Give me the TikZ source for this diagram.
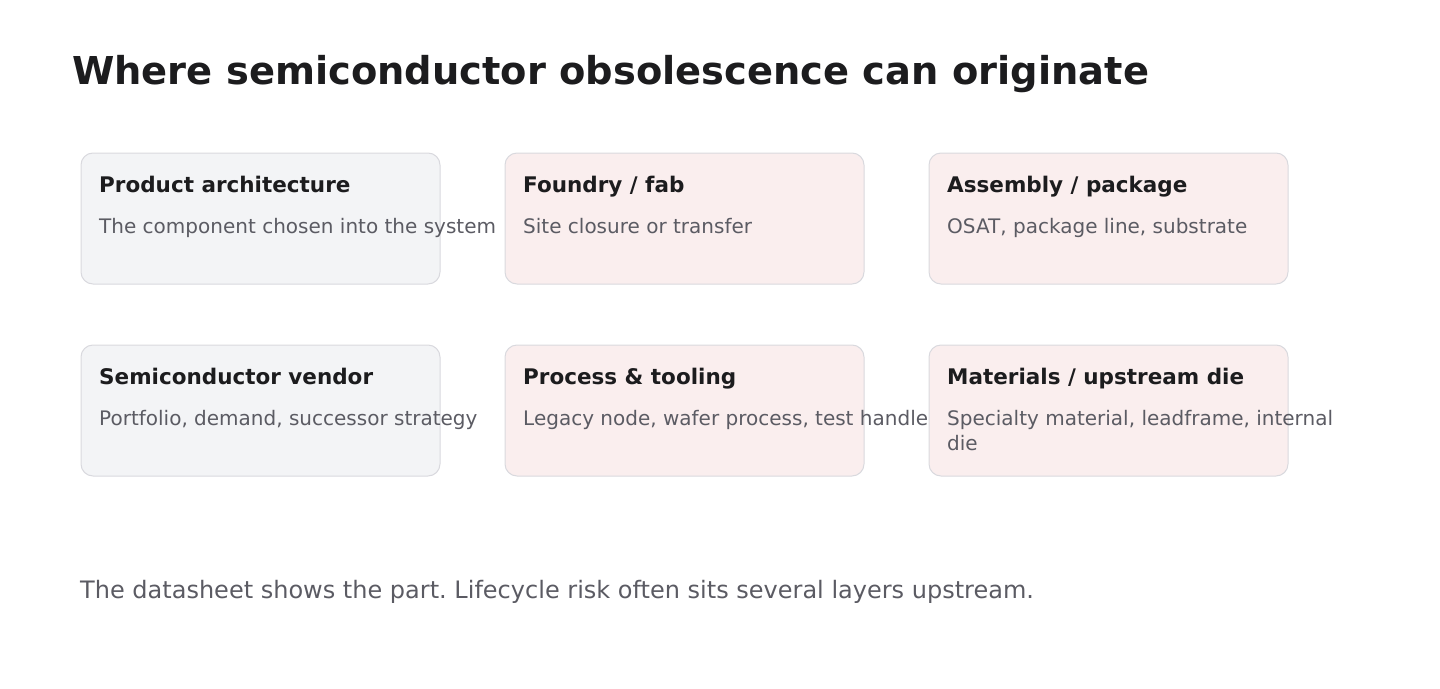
\documentclass[tikz,border=0pt]{standalone}
\usepackage{fontspec}
\setmainfont{DejaVu Sans}
\usepackage{xcolor}
\usepackage{tikz}
\usetikzlibrary{positioning}
\frenchspacing

\definecolor{inkdark}{HTML}{1C1C1E}
\definecolor{inkgray}{HTML}{5B5B63}
\definecolor{boxgray}{HTML}{F3F4F6}
\definecolor{boxpink}{HTML}{FAEEEE}
\definecolor{boxline}{HTML}{D9D9DE}

\begin{document}
\begin{tikzpicture}[x=1pt, y=-1pt,
  srcbox/.style={draw=boxline, line width=1pt, rounded corners=12pt,
    minimum width=359pt, minimum height=131pt, inner sep=0pt, anchor=north west},
  headtxt/.style={anchor=base west, inner sep=0pt, text=inkdark,
    font=\fontsize{21.5}{26}\selectfont\bfseries},
  desctxt/.style={anchor=base west, inner sep=0pt, text=inkgray, align=left,
    font=\fontsize{20}{25}\selectfont}
]

% Canvas
\useasboundingbox (0,0) rectangle (1440,688);

% Heading
\node[anchor=base west, inner sep=0pt, text=inkdark,
  font=\fontsize{38.4}{46}\selectfont\bfseries] (heading) at (72,84)
  {Where semiconductor obsolescence can originate};

% Top row of boxes
\node[srcbox, fill=boxgray] (arch) at (80.5,152.5) {};
\node[srcbox, fill=boxpink] (fab)  at (504.5,152.5) {};
\node[srcbox, fill=boxpink] (pkg)  at (928.5,152.5) {};

% Bottom row of boxes
\node[srcbox, fill=boxgray] (vendor) at (80.5,344.5) {};
\node[srcbox, fill=boxpink] (proc)   at (504.5,344.5) {};
\node[srcbox, fill=boxpink] (mat)    at (928.5,344.5) {};

% Box texts (base = last line)
\node[headtxt] (archhead) at ([shift={(18.5,39.5)}]arch.north west) {Product architecture};
\node[desctxt] (archdesc) at ([shift={(18.5,80.5)}]arch.north west) {The component chosen into the system};

\node[headtxt] (fabhead) at ([shift={(18.5,39.5)}]fab.north west) {Foundry / fab};
\node[desctxt] (fabdesc) at ([shift={(18.5,80.5)}]fab.north west) {Site closure or transfer};

\node[headtxt] (pkghead) at ([shift={(18.5,39.5)}]pkg.north west) {Assembly / package};
\node[desctxt] (pkgdesc) at ([shift={(18.5,80.5)}]pkg.north west) {OSAT, package line, substrate};

\node[headtxt] (vendorhead) at ([shift={(18.5,39.5)}]vendor.north west) {Semiconductor vendor};
\node[desctxt] (vendordesc) at ([shift={(18.5,80.5)}]vendor.north west) {Portfolio, demand, successor strategy};

\node[headtxt] (prochead) at ([shift={(18.5,39.5)}]proc.north west) {Process \& tooling};
\node[desctxt] (procdesc) at ([shift={(18.5,80.5)}]proc.north west) {Legacy node, wafer process, test handle};

\node[headtxt] (mathead) at ([shift={(18.5,39.5)}]mat.north west) {Materials / upstream die};
\node[desctxt] (matdesc) at ([shift={(18.5,105.5)}]mat.north west) {Specialty material, leadframe, internal\\die};

% Footnote
\node[anchor=base west, inner sep=0pt, text=inkgray,
  font=\fontsize{24}{29}\selectfont] (footnote) at (80,598)
  {The datasheet shows the part. Lifecycle risk often sits several layers upstream.};

\end{tikzpicture}
\end{document}
